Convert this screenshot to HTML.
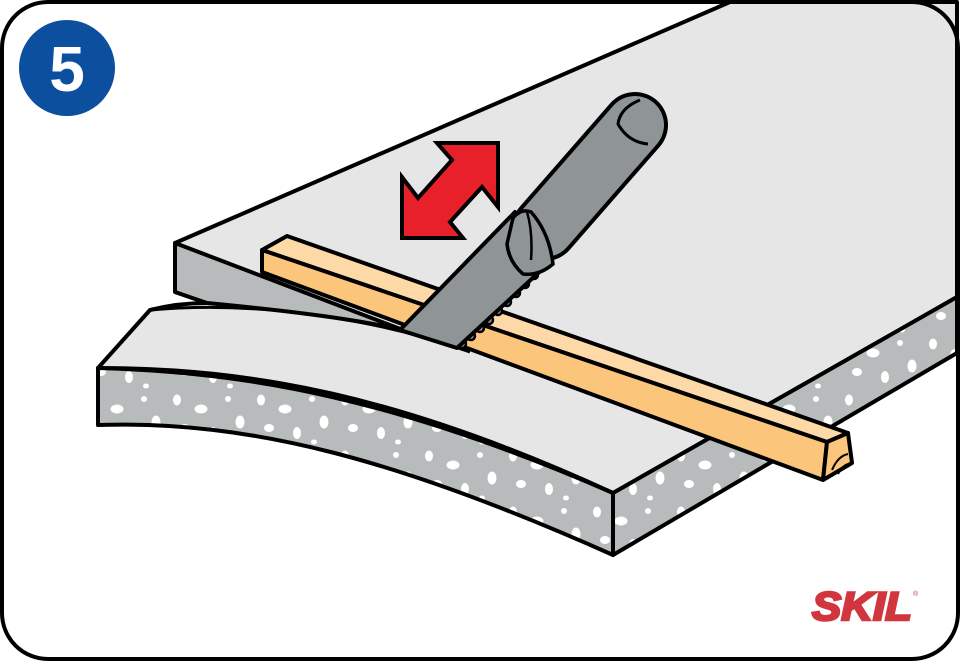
<!DOCTYPE html>
<html><head><meta charset="utf-8"><style>
html,body{margin:0;padding:0;background:#fff}
svg{display:block}
</style></head><body>
<svg width="960" height="661" viewBox="0 0 960 661" xmlns="http://www.w3.org/2000/svg">
<defs>
<pattern id="sp" width="84" height="56" patternUnits="userSpaceOnUse">
<rect width="84" height="56" fill="#b7bbbc"/>
<ellipse cx="9" cy="8" rx="4" ry="5.5" fill="#fff"/>
<ellipse cx="33" cy="17" rx="6.5" ry="4.5" fill="#fff"/>
<ellipse cx="60" cy="7" rx="3" ry="3" fill="#fff"/>
<ellipse cx="72" cy="30" rx="4.5" ry="6.5" fill="#fff"/>
<ellipse cx="17" cy="36" rx="5" ry="4" fill="#fff"/>
<ellipse cx="45" cy="41" rx="4" ry="6" fill="#fff"/>
<ellipse cx="62" cy="50" rx="3" ry="2.5" fill="#fff"/>
</pattern>
</defs>
<rect x="2" y="2" width="956" height="657" rx="46" fill="#fff"/>
<g stroke="#000" stroke-width="4" stroke-linejoin="round">
<path d="M175,243 L730,2 L957,2 L957,297 L613,493 C400,395 250,368 98,368 L150,310 C170,305 190,303 207,303 L175,292 Z" fill="#e6e6e6"/>
<path d="M175,243 L175,292 L207,303 C280,310 350,318 403,330 Z" fill="#b7bbbc"/>
<path d="M150,310 C260,300 380,320 470,352" fill="none" stroke-width="3"/>
<path d="M98,368 C250,372 400,400 613,493 L613,555 C400,460 250,420 98,425 Z" fill="url(#sp)"/>
<path d="M613,493 L957,297 L957,353 L613,555 Z" fill="url(#sp)"/>
<path d="M262,250 L287,236 L848,433 L827,442 Z" fill="#fdd9a8"/>
<path d="M262,250 L827,442 L823,480 L262,272 Z" fill="#fbc67c"/>
<path d="M827,442 L848,433 L852,463 L823,480 Z" fill="#fbc67c"/>
<path d="M832,470 q6,-14 16,-16 M838,474 q4,-8 10,-10" fill="none" stroke-width="2"/>
</g>
<g fill="#8f9597" stroke="#000" stroke-width="2.5">
<circle cx="462" cy="344" r="4"/><circle cx="471" cy="336" r="4"/><circle cx="480" cy="328" r="4"/><circle cx="489" cy="320" r="4"/><circle cx="498" cy="311" r="4"/><circle cx="507" cy="302" r="4"/><circle cx="516" cy="293" r="4"/><circle cx="525" cy="284" r="4"/><circle cx="534" cy="275" r="4"/><circle cx="542" cy="267" r="4"/>
</g>
<path d="M400,330 L515,212 L550,262 L457,348 Z" fill="#8f9597" stroke="#000" stroke-width="4" stroke-linejoin="round"/>
<!-- handle -->
<line x1="545" y1="228" x2="635" y2="125" stroke="#000" stroke-width="66" stroke-linecap="round"/>
<line x1="545" y1="228" x2="635" y2="125" stroke="#8f9597" stroke-width="58" stroke-linecap="round"/>
<path d="M640,100 q-20,8 -22,24 q10,18 30,20" fill="none" stroke="#000" stroke-width="3"/>
<path d="M513,218 q8,-10 18,-6 q18,20 22,52 q-14,12 -30,10 q-14,-12 -16,-30 Z" fill="#8f9597" stroke="#000" stroke-width="3.5"/>
<path d="M527,212 q6,20 4,48" fill="none" stroke="#000" stroke-width="2.5"/>
<path d="M498,143 L498,207 L482,187 L450,222 L463,238 L402,238 L402,177 L418,198 L452,160 L437,143 Z" fill="#e8202a" stroke="#000" stroke-width="4" stroke-linejoin="miter"/>
<circle cx="67" cy="68" r="48" fill="#0b4f9e"/>
<text x="67" y="91" text-anchor="middle" font-family="Liberation Sans, sans-serif" font-weight="bold" font-size="64" fill="#fff">5</text>
<text x="812" y="620" font-family="Liberation Sans, sans-serif" font-weight="bold" font-style="italic" font-size="40" fill="#d1363e" stroke="#d1363e" stroke-width="2.5" textLength="100" lengthAdjust="spacingAndGlyphs">SKIL</text>
<text x="913" y="596" font-family="Liberation Sans, sans-serif" font-size="7" fill="#d1363e">®</text>
<rect x="2" y="2" width="956" height="657" rx="46" fill="none" stroke="#000" stroke-width="4"/>
</svg>
</body></html>
